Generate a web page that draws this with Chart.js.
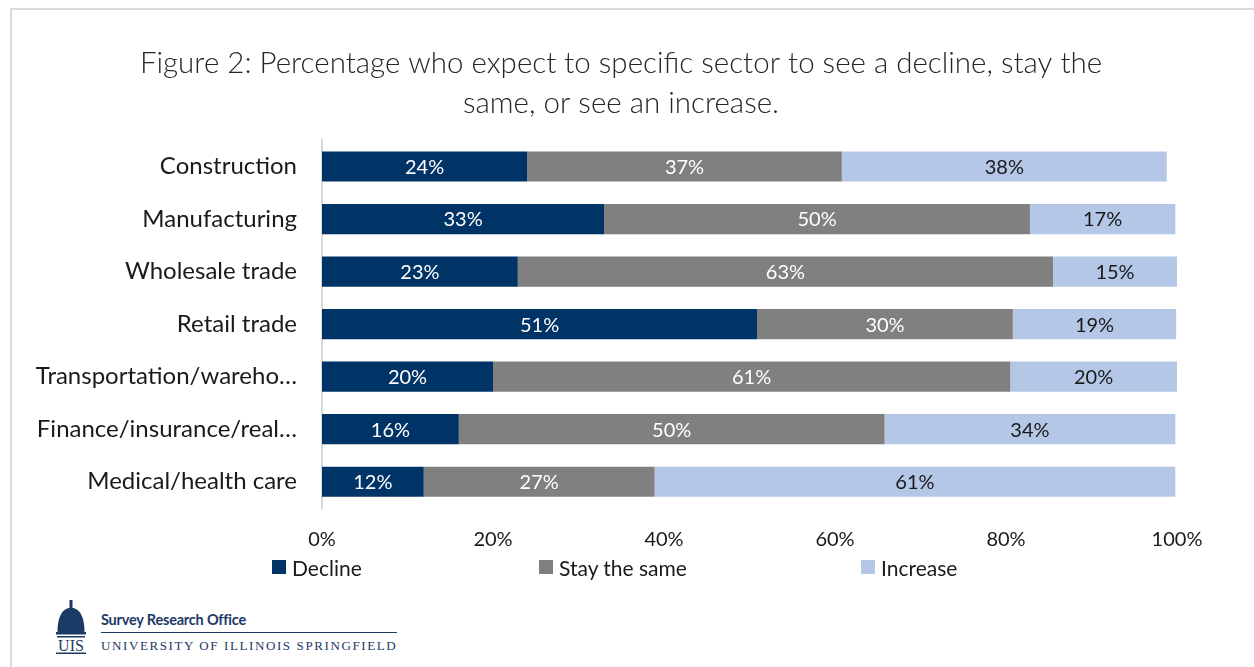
<!DOCTYPE html>
<html>
<head>
<meta charset="utf-8">
<script src="https://cdn.jsdelivr.net/npm/chart.js@4.4.1/dist/chart.umd.min.js"></script>
<style>
  body { margin: 0; background: #fff; width: 1254px; height: 667px; overflow: hidden; position: relative; font-family: Lato, "Open Sans", sans-serif; }
  #frame { position: absolute; left: 10px; top: 8px; width: 1270px; height: 700px; border: 2px solid #d9d9d9; box-sizing: border-box; }
  #wrap { position: absolute; left: 0; top: 0; width: 1254px; height: 572px; }
  #legend { position: absolute; left: 272px; top: 555px; display: flex; font-size: 21px; color: #1a1a1a; }
  #legend .item { display: flex; align-items: center; height: 24px; }
  #legend .box { width: 14px; height: 14px; margin-right: 6px; }
  #logo { position: absolute; left: 56px; top: 598px; width: 350px; height: 60px; }
  #sro { position: absolute; left: 45px; top: 13px; font: bold 14.5px Lato, sans-serif; color: #1c3a66; letter-spacing: -0.2px; white-space: nowrap; }
  #rule { position: absolute; left: 45px; top: 34px; width: 296px; height: 1px; background: #1c3a66; }
  #uis { position: absolute; left: 45px; top: 40px; font: 13px "Liberation Serif", serif; color: #1c3a66; letter-spacing: 1.6px; white-space: nowrap; }
</style>
</head>
<body>
<div id="frame"></div>
<div id="wrap"><canvas id="myChart"></canvas></div>
<div id="legend"></div>
<div id="logo">
  <svg width="30" height="58" viewBox="0 0 30 58" style="position:absolute;left:0;top:0">
    <rect x="13.5" y="2" width="3" height="9" fill="#1c3a66"/>
    <path d="M1.5 34 Q1.5 11 15 9.5 Q28.5 11 28.5 34 Z" fill="#1c3a66"/>
    <rect x="0" y="34" width="30" height="2.5" fill="#1c3a66"/>
    <rect x="1" y="38" width="28" height="1.5" fill="#1c3a66"/>
    <text x="15" y="53" text-anchor="middle" font-family="Liberation Serif, serif" font-size="16" fill="#1c3a66">UIS</text>
    <rect x="0" y="54.5" width="30" height="1.5" fill="#1c3a66"/>
  </svg>
  <div id="sro">Survey Research Office</div>
  <div id="rule"></div>
  <div id="uis">UNIVERSITY OF ILLINOIS SPRINGFIELD</div>
</div>
<script>
// data
var sectors = [
  "Construction",
  "Manufacturing",
  "Wholesale trade",
  "Retail trade",
  "Transportation/wareho…",
  "Finance/insurance/real…",
  "Medical/health care",
];
var decline = [24.0, 33.0, 22.9, 50.9, 20.0, 16.0, 11.9];
var staySame = [36.8, 49.8, 62.6, 29.9, 60.5, 49.8, 27.0];
var increase = [38.0, 17.0, 14.5, 19.1, 19.5, 34.0, 60.9];
var xTicks = [0, 20, 40, 60, 80, 100];
var seriesNames = ["Decline", "Stay the same", "Increase"];
var seriesColors = ["#003366", "#808080", "#b4c7e7"];

var FONT = "Lato, 'Open Sans', sans-serif";

// draws the percent inside each bar segment
var barLabels = {
  id: "barLabels",
  afterDatasetsDraw(chart) {
    var ctx = chart.ctx;
    ctx.save();
    ctx.font = "20px " + FONT;
    ctx.textAlign = "center";
    ctx.textBaseline = "middle";
    chart.data.datasets.forEach(function (ds, i) {
      var meta = chart.getDatasetMeta(i);
      meta.data.forEach(function (bar, j) {
        ctx.fillStyle = i == 2 ? "#1a1a1a" : "#ffffff";
        ctx.fillText(Math.round(ds.data[j]) + "%", (bar.x + bar.base) / 2, bar.y + 1);
      });
    });
    ctx.restore();
  },
};

var ctx = document.getElementById("myChart").getContext("2d");
var myChart = new Chart(ctx, {
  type: "bar",
  data: {
    labels: sectors,
    datasets: [
      { label: seriesNames[0], data: decline, backgroundColor: seriesColors[0] },
      { label: seriesNames[1], data: staySame, backgroundColor: seriesColors[1] },
      { label: seriesNames[2], data: increase, backgroundColor: seriesColors[2] },
    ],
  },
  options: {
    indexAxis: "y",
    responsive: true,
    maintainAspectRatio: false,
    animation: false,
    layout: { padding: { left: 0, right: 12, top: 0, bottom: 0 } },
    datasets: { bar: { barPercentage: 0.575, categoryPercentage: 1 } },
    scales: {
      x: {
        stacked: true,
        min: 0,
        max: 100,
        afterBuildTicks: function (scale) {
          scale.ticks = xTicks.map(function (v) { return { value: v }; });
        },
        grid: { display: false, drawTicks: false },
        border: { display: false },
        ticks: {
          padding: 20,
          color: "#1a1a1a",
          font: { family: FONT, size: 20 },
          callback: function (v) { return v + "%"; },
        },
      },
      y: {
        stacked: true,
        afterFit: function (scale) { scale.width = 322; },
        grid: { display: false, drawTicks: false },
        border: { display: true, color: "#d9d9d9", width: 2 },
        ticks: {
          autoSkip: false,
          padding: 25,
          color: "#1a1a1a",
          font: { family: FONT, size: 24 },
        },
      },
      // empty strip on the right so the plot ends where the original does
      yRight: {
        type: "category",
        position: "right",
        afterFit: function (scale) { scale.width = 65; },
        grid: { display: false, drawTicks: false },
        border: { display: false },
        ticks: { display: false },
      },
    },
    plugins: {
      title: {
        display: true,
        text: [
          "Figure 2: Percentage who expect to specific sector to see a decline, stay the",
          "same, or see an increase.",
        ],
        color: "#262626",
        font: { family: FONT, size: 29.5, weight: 300, lineHeight: 1.36 },
        padding: { top: 43, bottom: 17 },
      },
      legend: { display: false },
      tooltip: { enabled: false },
    },
  },
  plugins: [barLabels],
});

// legend laid out like the original, spread across the bottom
var widths = [267, 322, 0];
var legend = document.getElementById("legend");
seriesNames.forEach(function (name, i) {
  var item = document.createElement("div");
  item.className = "item";
  if (widths[i]) item.style.width = widths[i] + "px";
  var box = document.createElement("span");
  box.className = "box";
  box.style.background = seriesColors[i];
  item.appendChild(box);
  item.appendChild(document.createTextNode(name));
  legend.appendChild(item);
});
</script>
</body>
</html>
